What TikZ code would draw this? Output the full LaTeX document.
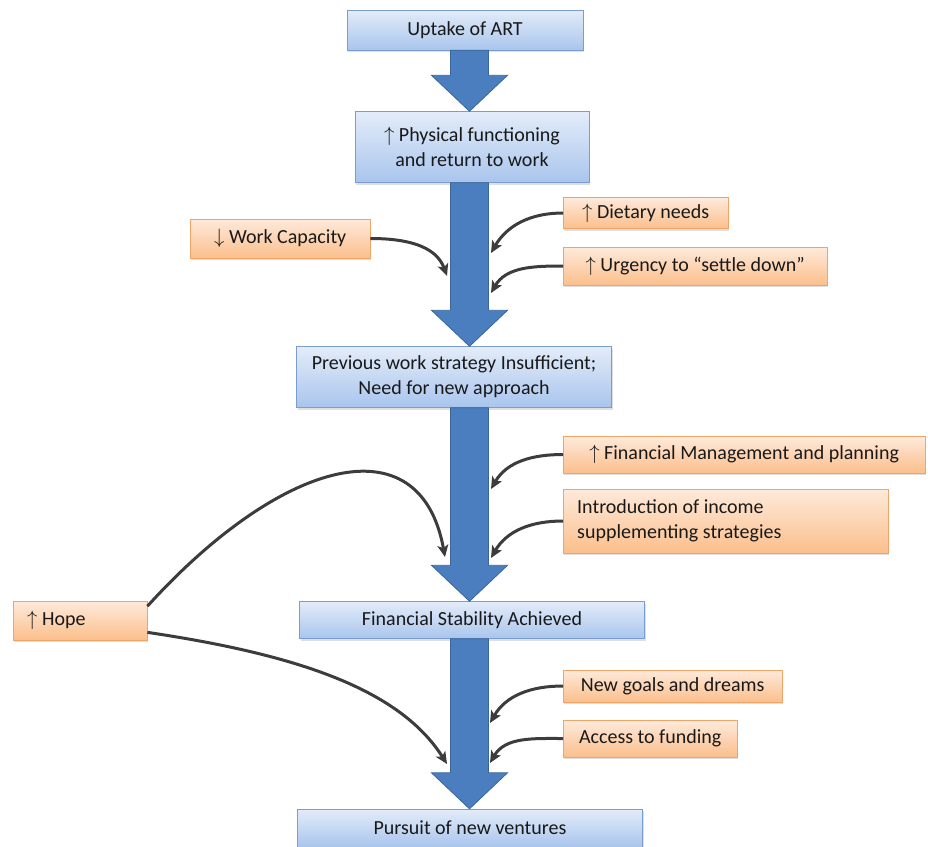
\documentclass[tikz,border=0pt]{standalone}
\usepackage{fontspec}
\setmainfont{Carlito}
\usetikzlibrary{arrows.meta,calc,shadows}
\definecolor{boxtop}{HTML}{E3ECF9}
\definecolor{boxbot}{HTML}{A9C5ED}
\definecolor{boxline}{HTML}{7A9CCF}
\definecolor{facttop}{HTML}{FEEADB}
\definecolor{factbot}{HTML}{FBBF8C}
\definecolor{factline}{HTML}{EFA468}
\definecolor{arrowblue}{HTML}{4A7EBF}
\definecolor{arrowline}{HTML}{3A6699}
\definecolor{linkgrey}{HTML}{3C3C3C}
\tikzset{
  stage/.style={draw=boxline, top color=boxtop, bottom color=boxbot,
    align=flush center, inner sep=0pt, text=black!90,
    font=\fontsize{20}{25}\selectfont,
    drop shadow={opacity=0.25, shadow xshift=1pt, shadow yshift=-2pt}},
  factor/.style={draw=factline, top color=facttop, bottom color=factbot,
    anchor=west, align=flush left, inner xsep=14pt, inner ysep=0pt, text=black!90,
    font=\fontsize{20}{25}\selectfont,
    drop shadow={opacity=0.25, shadow xshift=1pt, shadow yshift=-2pt}},
  link/.style={draw=linkgrey, line width=3pt,
    -{Stealth[length=12pt,width=11pt,inset=3pt]}},
  bigarrow/.style={fill=arrowblue, draw=arrowline, line width=0.8pt}
}
\newcommand{\blockarrow}[2]{%
  \draw[bigarrow] let \p1=(axis |- #1.south), \p2=(axis |- #2.north) in
    (\x1-19pt,\y1) -- (\x1-19pt,\y2+36pt) -- (\x1-38pt,\y2+36pt) -- (\x2,\y2)
    -- (\x1+38pt,\y2+36pt) -- (\x1+19pt,\y2+36pt) -- (\x1+19pt,\y1) -- cycle;}
\begin{document}
\begin{tikzpicture}[x=1pt,y=-1pt]
  \useasboundingbox (0,0) rectangle (928,846);
  \coordinate (axis) at (469.5,0);

  \node[stage, minimum width=236pt, minimum height=40pt] (art) at (465,30) {Uptake of ART};
  \node[stage, minimum width=234pt, minimum height=71pt] (phys) at (472,147) {$\uparrow$ Physical functioning\\and return to work};
  \node[stage, minimum width=315pt, minimum height=61pt] (prev) at (454,377) {Previous work strategy Insufficient;\\Need for new approach};
  \node[stage, minimum width=345pt, minimum height=37pt] (stab) at (472,620) {Financial Stability Achieved};
  \node[stage, minimum width=345pt, minimum height=38pt] (pursuit) at (470,828) {Pursuit of new ventures};

  \blockarrow{art}{phys}
  \blockarrow{phys}{prev}
  \blockarrow{prev}{stab}
  \blockarrow{stab}{pursuit}

  \node[factor, minimum width=180pt, minimum height=39pt] (workcap) at (190,238.5) {$\downarrow$ Work Capacity};
  \node[factor, minimum width=165pt, minimum height=31pt] (diet) at (563,213) {$\uparrow$ Dietary needs};
  \node[factor, minimum width=264pt, minimum height=38pt] (urgency) at (563,266) {$\uparrow$ Urgency to ``settle down''};
  \node[factor, minimum width=362pt, minimum height=37pt] (finman) at (563,454.5) {$\uparrow$ Financial Management and planning};
  \node[factor, text width=297pt, minimum height=64pt] (income) at (563,521) {Introduction of income\\supplementing strategies};
  \node[factor, text width=106pt, minimum height=39pt] (hope) at (13,620.5) {$\uparrow$ Hope};
  \node[factor, minimum width=219pt, minimum height=32pt] (goals) at (563,686) {New goals and dreams};
  \node[factor, minimum width=174pt, minimum height=37pt] (funding) at (563,738.5) {Access to funding};

  \coordinate (wcend) at (447,276);
  \coordinate (dietend) at (491,253);
  \coordinate (urgend) at (491,293);
  \coordinate (finend) at (491,489);
  \coordinate (incend) at (491,558);
  \coordinate (hopeup) at (445,557);
  \coordinate (hopedown) at (447,764);
  \coordinate (goalend) at (490,723);
  \coordinate (fundend) at (490,763);

  \draw[link] (workcap.east) to[out=0,in=110] (wcend);
  \draw[link] (diet.west) to[out=180,in=60] (dietend);
  \draw[link] (urgency.west) to[out=180,in=60] (urgend);
  \draw[link] (finman.west) to[out=180,in=60] (finend);
  \draw[link] (income.west) to[out=180,in=60] (incend);
  \draw[link] (goals.west) to[out=180,in=60] (goalend);
  \draw[link] (funding.west) to[out=180,in=60] (fundend);
  \draw[link] (hope.12) .. controls (280,460) and (420,420) .. (hopeup);
  \draw[link] (hope.-10) .. controls (300,655) and (400,690) .. (hopedown);
\end{tikzpicture}
\end{document}
